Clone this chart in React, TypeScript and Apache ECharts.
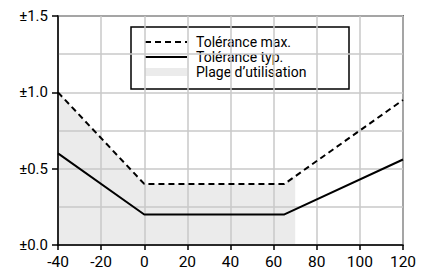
import React, { useEffect, useRef } from "react";
import * as echarts from "echarts";

const xTicks = [-40, -20, 0, 20, 40, 60, 80, 100, 120];
const maxTol: [number, number][] = [[-40, 1.0], [0, 0.4], [65, 0.4], [120, 0.95]];
const typTol: [number, number][] = [[-40, 0.6], [0, 0.2], [65, 0.2], [120, 0.56]];
const usageRange: [number, number][] = [[-40, 1.0], [0, 0.4], [65, 0.4], [70, 0.45]];
const legendNames = ["Tolérance max.", "Tolérance typ.", "Plage d’utilisation"];

const FONT = "Roboto";

export default function App() {
  const ref = useRef<HTMLDivElement>(null);
  useEffect(() => {
    if (!ref.current) return;
    const chart = echarts.init(ref.current, undefined, { renderer: "svg" });
    const lx = 131, ly = 27;
    chart.setOption({
      animation: false,
      grid: {
        left: 58, right: 20, top: 16, bottom: 22,
        show: true, borderColor: "#000", borderWidth: 1.5, backgroundColor: "transparent",
      },
      xAxis: {
        type: "value", min: xTicks[0], max: xTicks[xTicks.length - 1], interval: 20,
        axisLine: { show: true, onZero: false, lineStyle: { color: "#000", width: 1.5 } },
        axisTick: { show: true, length: 5, lineStyle: { color: "#000", width: 1.5 } },
        axisLabel: { color: "#000", fontSize: 15.5, fontFamily: FONT, margin: 9 },
        splitLine: { show: true, lineStyle: { color: "#c8c8c8", width: 1.5 } },
      },
      yAxis: {
        type: "value", min: 0, max: 1.5, interval: 0.5,
        axisLine: { show: true, onZero: false, lineStyle: { color: "#000", width: 1.5 } },
        axisTick: { show: true, length: 6, lineStyle: { color: "#000", width: 1.5 } },
        axisLabel: {
          color: "#000", fontSize: 15, fontFamily: FONT, margin: 10,
          formatter: (v: number) => "±" + v.toFixed(1),
        },
        splitLine: { show: true, lineStyle: { color: "#c8c8c8", width: 1.5 } },
        minorTick: { show: false, splitNumber: 2 },
        minorSplitLine: { show: true, lineStyle: { color: "#c8c8c8", width: 1.5 } },
      },
      series: [
        {
          name: legendNames[2], type: "line", data: usageRange, symbol: "none", z: -1,
          lineStyle: { width: 0, opacity: 0 }, areaStyle: { color: "#ebebeb", opacity: 1 },
          silent: true,
        },
        {
          name: legendNames[0], type: "line", data: maxTol, symbol: "none",
          lineStyle: { color: "#000", width: 2, type: [6, 4] },
        },
        {
          name: legendNames[1], type: "line", data: typTol, symbol: "none",
          lineStyle: { color: "#000", width: 2 },
        },
      ],
      graphic: [
        {
          type: "group", z: 100,
          children: [
            { type: "rect", shape: { x: lx, y: ly, width: 218, height: 62 }, style: { fill: "#fff", stroke: "#000", lineWidth: 1.5 } },
            { type: "line", shape: { x1: lx + 14, y1: ly + 15, x2: lx + 56, y2: ly + 15 }, style: { stroke: "#000", lineWidth: 2, lineDash: [6, 4] } },
            { type: "line", shape: { x1: lx + 14, y1: ly + 30, x2: lx + 56, y2: ly + 30 }, style: { stroke: "#000", lineWidth: 2 } },
            { type: "rect", shape: { x: lx + 14, y: ly + 41, width: 42, height: 8 }, style: { fill: "#ebebeb" } },
            { type: "text", x: lx + 65, y: ly + 15, style: { text: legendNames[0], fill: "#000", fontSize: 14, fontFamily: FONT, verticalAlign: "middle" } },
            { type: "text", x: lx + 65, y: ly + 30, style: { text: legendNames[1], fill: "#000", fontSize: 14, fontFamily: FONT, verticalAlign: "middle" } },
            { type: "text", x: lx + 65, y: ly + 45, style: { text: legendNames[2], fill: "#000", fontSize: 14, fontFamily: FONT, verticalAlign: "middle" } },
          ],
        },
      ],
    });
    return () => chart.dispose();
  }, []);
  return (
    <div
      ref={ref}
      style={{ position: "fixed", left: 0, top: 0, width: 423, height: 270, background: "#fff" }}
    />
  );
}
